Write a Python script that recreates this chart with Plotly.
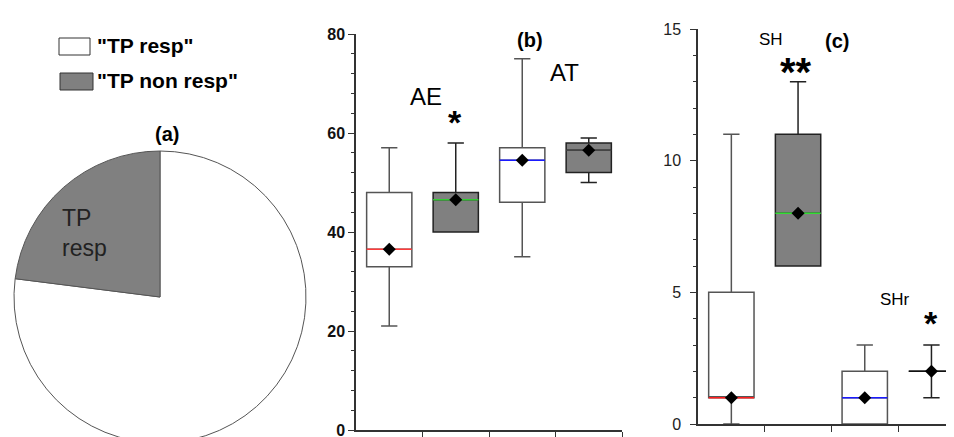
import plotly.graph_objects as go

# ---------------- data ----------------
pie_labels = ['"TP resp"', '"TP non resp"']
pie_values = [77, 23]
pie_colors = ["#ffffff", "#808080"]

b_categories = ["AE resp", "AE non resp", "AT resp", "AT non resp"]
b_pos = [0, 1, 2, 3]
b_lower = [21, 40, 35, 50]
b_q1 = [33, 40, 46, 52]
b_median = [36.5, 46.5, 54.5, 56.5]
b_q3 = [48, 48, 57, 58]
b_upper = [57, 58, 75, 59]
b_mean = [36.5, 46.5, 54.5, 56.5]
b_median_colors = ["#ff3b3b", "#33cc33", "#1a1aff", "#444444"]

c_categories = ["SH resp", "SH non resp", "SHr resp", "SHr non resp"]
c_pos = [0, 1, 2, 3]
c_lower = [0, 6, 0, 1]
c_q1 = [1, 6, 0, 2]
c_median = [1, 8, 1, 2]
c_q3 = [5, 11, 2, 2]
c_upper = [11, 13, 3, 3]
c_mean = [1, 8, 1, 2]
c_median_colors = ["#ff2020", "#33dd33", "#1a1aff", "#111111"]

W, H = 954, 437
OFF = 8  # page body margin
FONT = "Arial, Liberation Sans, sans-serif"
BOXW = 0.68


def px(x):
    return (x - OFF) / W


def py(y):
    return 1 - (y - OFF) / H


fig = go.Figure()

# ---------------- pie (a) ----------------
fig.add_trace(go.Pie(
    labels=pie_labels, values=pie_values, sort=False, direction="clockwise", rotation=0,
    marker=dict(colors=pie_colors, line=dict(color="#555555", width=1)),
    textinfo="none", showlegend=False, hoverinfo="label+percent",
    domain=dict(x=[px(13), px(307)], y=[py(443), py(151)]),
))


def add_boxes(xa, ya, pos, lower, q1, med, q3, upper, mean, medcols):
    groups = [(0, "#ffffff", "#555555"), (1, "#808080", "#222222")]
    for start, fill, lc in groups:
        idx = list(range(start, len(pos), 2))
        fig.add_trace(go.Box(
            x=[pos[i] for i in idx], q1=[q1[i] for i in idx], median=[med[i] for i in idx],
            q3=[q3[i] for i in idx], lowerfence=[lower[i] for i in idx],
            upperfence=[upper[i] for i in idx], width=BOXW, whiskerwidth=0.36,
            fillcolor=fill, line=dict(color=lc, width=1.5), boxpoints=False,
            xaxis=xa, yaxis=ya, showlegend=False,
        ))
    for i, p in enumerate(pos):
        fig.add_trace(go.Scatter(
            x=[p - BOXW / 2, p + BOXW / 2], y=[med[i], med[i]], mode="lines",
            line=dict(color=medcols[i], width=1.5), xaxis=xa, yaxis=ya,
            showlegend=False, hoverinfo="skip",
        ))
    fig.add_trace(go.Scatter(
        x=pos, y=mean, mode="markers",
        marker=dict(symbol="diamond", size=10, color="black"),
        xaxis=xa, yaxis=ya, showlegend=False,
    ))


add_boxes("x", "y", b_pos, b_lower, b_q1, b_median, b_q3, b_upper, b_mean, b_median_colors)
add_boxes("x2", "y2", c_pos, c_lower, c_q1, c_median, c_q3, c_upper, c_mean, c_median_colors)

axis_common = dict(showgrid=False, zeroline=False, showline=True, linecolor="#333333",
                   linewidth=1.5, ticks="outside", tickcolor="#333333", ticklen=6,
                   automargin=False)

annotations = [
    # legend texts
    dict(x=px(95), y=py(46), xref="paper", yref="paper", text=pie_labels[0],
         showarrow=False, xanchor="left", yanchor="middle",
         font=dict(family=FONT, size=21, color="black", weight="bold")),
    dict(x=px(95), y=py(80), xref="paper", yref="paper", text=pie_labels[1],
         showarrow=False, xanchor="left", yanchor="middle",
         font=dict(family=FONT, size=21, color="black", weight="bold")),
    # panel titles
    dict(x=px(153), y=py(121), xref="paper", yref="paper", text="(a)", showarrow=False,
         font=dict(family=FONT, size=20, color="black", weight="bold")),
    dict(x=px(530), y=py(27), xref="paper", yref="paper", text="(b)", showarrow=False,
         font=dict(family=FONT, size=20, color="black", weight="bold")),
    dict(x=px(851), y=py(28), xref="paper", yref="paper", text="(c)", showarrow=False,
         font=dict(family=FONT, size=20, color="black", weight="bold")),
    # pie inner label
    dict(x=px(60), y=py(233), xref="paper", yref="paper", text="TP<br>resp",
         showarrow=False, xanchor="left", align="left",
         font=dict(family=FONT, size=23, color="#222222")),
    # panel b labels
    dict(x=0.55, y=67.3, xref="x", yref="y", text="AE", showarrow=False,
         font=dict(family=FONT, size=24, color="black")),
    dict(x=0.99, y=62.3, xref="x", yref="y", text="*", showarrow=False,
         font=dict(family=FONT, size=34, color="black", weight="bold")),
    dict(x=2.63, y=72.3, xref="x", yref="y", text="AT", showarrow=False,
         font=dict(family=FONT, size=24, color="black")),
    # panel c labels
    dict(x=0.59, y=14.6, xref="x2", yref="y2", text="SH", showarrow=False,
         font=dict(family=FONT, size=17, color="black")),
    dict(x=0.97, y=13.35, xref="x2", yref="y2", text="**", showarrow=False,
         font=dict(family=FONT, size=40, color="black", weight="bold")),
    dict(x=2.45, y=4.71, xref="x2", yref="y2", text="SHr", showarrow=False,
         font=dict(family=FONT, size=17, color="black")),
    dict(x=2.99, y=3.82, xref="x2", yref="y2", text="*", showarrow=False,
         font=dict(family=FONT, size=34, color="black", weight="bold")),
]

shapes = [
    dict(type="rect", xref="paper", yref="paper", x0=px(59), x1=px(90),
         y0=py(55), y1=py(38), fillcolor="white", line=dict(color="#333333", width=1)),
    dict(type="rect", xref="paper", yref="paper", x0=px(60), x1=px(93),
         y0=py(90), y1=py(73), fillcolor="#808080", line=dict(color="#333333", width=1)),
]

c_right = -0.5 + (W + OFF - 698) / 66.7

fig.update_layout(
    width=W, height=H, margin=dict(l=0, r=0, t=0, b=0, autoexpand=False),
    paper_bgcolor="white", plot_bgcolor="white",
    font=dict(family=FONT, color="black"),
    showlegend=False, boxmode="overlay",
    annotations=annotations, shapes=shapes,
    xaxis=dict(axis_common, domain=[px(356), px(622)], range=[-0.5, 3.5],
               tickvals=[0.5, 1.5, 2.5, 3.5], showticklabels=False, anchor="y"),
    yaxis=dict(axis_common, domain=[py(430), py(34)], range=[0, 80], tickvals=[0, 20, 40, 60, 80],
               tickfont=dict(family=FONT, size=16, color="#111111", weight="bold"),
               minor=dict(dtick=4, tick0=0, ticks="outside", ticklen=3, tickcolor="#333333"),
               anchor="x"),
    xaxis2=dict(axis_common, domain=[px(698), 1], range=[-0.5, c_right],
                tickvals=[0.5, 1.5, 2.5], showticklabels=False, anchor="y2"),
    yaxis2=dict(axis_common, domain=[py(424), py(29)], range=[0, 15], tickvals=[0, 5, 10, 15],
                tickfont=dict(family=FONT, size=16, color="#222222"),
                minor=dict(dtick=1, tick0=0, ticks="outside", ticklen=3, tickcolor="#333333"),
                ticklabelstandoff=6, anchor="x2"),
)

fig.write_html("out.html")
